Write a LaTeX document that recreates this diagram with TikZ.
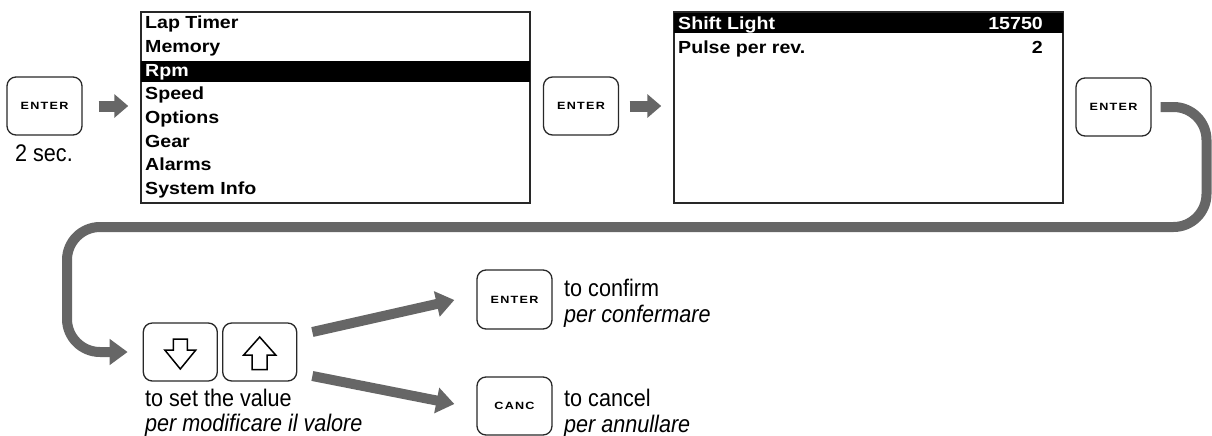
\documentclass[tikz,border=0pt]{standalone}
\usepackage{fontspec}
\setmainfont{Liberation Sans}
\newfontfamily\menufont[FakeStretch=1.12]{Liberation Sans}
\newfontfamily\notefont[FakeStretch=0.9]{Liberation Sans}
\newfontfamily\keyfont[FakeStretch=1.2,LetterSpace=12]{Liberation Sans}
\usetikzlibrary{arrows.meta}
\definecolor{flowgray}{RGB}{102,102,102}
\definecolor{inkgray}{RGB}{40,40,40}

\begin{document}
\begin{tikzpicture}[x=1pt,y=-1pt,
  key/.style={draw=inkgray,line width=1.3pt,rounded corners=9pt,
    minimum width=75pt,minimum height=58pt,inner sep=0pt,
    font=\keyfont\bfseries\fontsize{10.5}{11}\selectfont},
  screen/.style={draw=inkgray,fill=white,line width=1.5pt,
    minimum width=389pt,minimum height=191pt,inner sep=0pt},
  item/.style={anchor=base west,inner sep=0pt,
    font=\menufont\bfseries\fontsize{17.5}{20}\selectfont},
  value/.style={anchor=base east,inner sep=0pt,
    font=\menufont\bfseries\fontsize{17.5}{20}\selectfont},
  note/.style={anchor=base west,inner sep=0pt,
    font=\notefont\fontsize{24}{28}\selectfont},
  stepflow/.style={draw=flowgray,line width=11pt,
    -{Triangle[width=23pt,length=14pt]}},
  flow/.style={draw=flowgray,line width=10pt,
    -{Triangle[width=25pt,length=18pt]}},
  glyph/.style={draw=black,line width=1.5pt,line join=miter},
]
\useasboundingbox (0,0) rectangle (1212,436);

% ---- top row: keys and screens ----
\node[key] (k1) at (44.5,106) {\raisebox{-2pt}{ENTER}};
\node[note,anchor=base] (hold) at (44,161) {2 sec.};

\node[screen] (menu) at (335.5,107.5) {};
\fill[black] (141,61) rectangle (530,81.7);
\node[item] (m1) at (145,28.7) {Lap Timer};
\node[item] (m2) at (145,52.4) {Memory};
\node[item,text=white] (m3) at (145,76.0) {Rpm};
\node[item] (m4) at (145,99.7) {Speed};
\node[item] (m5) at (145,123.3) {Options};
\node[item] (m6) at (145,147.0) {Gear};
\node[item] (m7) at (145,170.7) {Alarms};
\node[item] (m8) at (145,194.3) {System Info};

\node[key] (k2) at (581,106) {\raisebox{-2pt}{ENTER}};

\node[screen] (rpm) at (868.5,107.5) {};
\fill[black] (674,12.7) rectangle (1063,33.3);
\node[item,text=white] (s1) at (678,29.5) {Shift Light};
\node[value,text=white] (v1) at (1043,29.5) {15750};
\node[item] (s2) at (678,53) {Pulse per rev.};
\node[value] (v2) at (1043,53) {2};

\node[key] (k3) at (1113.5,107) {\raisebox{-2pt}{ENTER}};

% ---- bottom row: keys and notes ----
\node[key,minimum width=74pt] (kdown) at (180.3,352) {};
\node[key,minimum width=74pt] (kup) at (259.7,352) {};
\draw[glyph,shift={(kdown.center)}]
  (-7,-13) -- (7,-13) -- (7,-2) -- (15.5,-2) -- (0,17) -- (-15.5,-2) -- (-7,-2) -- cycle;
\draw[glyph,shift={(kup.center)}]
  (0,-15) -- (16,3) -- (7.5,3) -- (7.5,17.5) -- (-7.5,17.5) -- (-7.5,3) -- (-16,3) -- cycle;
\node[note] (set1) at (145,406.7) {to set the value};
\node[note] (set2) at (145,431.7) {\itshape per modificare il valore};

\node[key,minimum height=59pt] (kconf) at (514.5,299.5) {\raisebox{-2pt}{ENTER}};
\node[note] (conf1) at (564,296.7) {to confirm};
\node[note] (conf2) at (564,322.7) {\itshape per confermare};

\node[key] (kcanc) at (514.5,406) {\raisebox{-2pt}{CANC}};
\node[note] (canc1) at (564,406.7) {to cancel};
\node[note] (canc2) at (564,432.7) {\itshape per annullare};

% ---- connectors ----
\draw[stepflow,shorten <=16pt,shorten >=12pt] (k1.east) -- (k1.east -| menu.west);
\draw[stepflow,shorten <=10.5pt,shorten >=12pt] (k2.east) -- (k2.east -| rpm.west);

\coordinate (turnR) at (1206.5,227);
\coordinate (turnL) at (67,227);
\draw[flow,rounded corners=33pt,shorten <=9pt,shorten >=15pt]
  (k3.east) -| (turnR) -- (turnL) |- (kdown.west);

\draw[flow] ([shift={(15,-20)}]kup.east) -- ([shift={(-22,0.5)}]kconf.west);
\draw[flow] ([shift={(15,24)}]kup.east) -- ([shift={(-22,-2)}]kcanc.west);
\end{tikzpicture}
\end{document}
